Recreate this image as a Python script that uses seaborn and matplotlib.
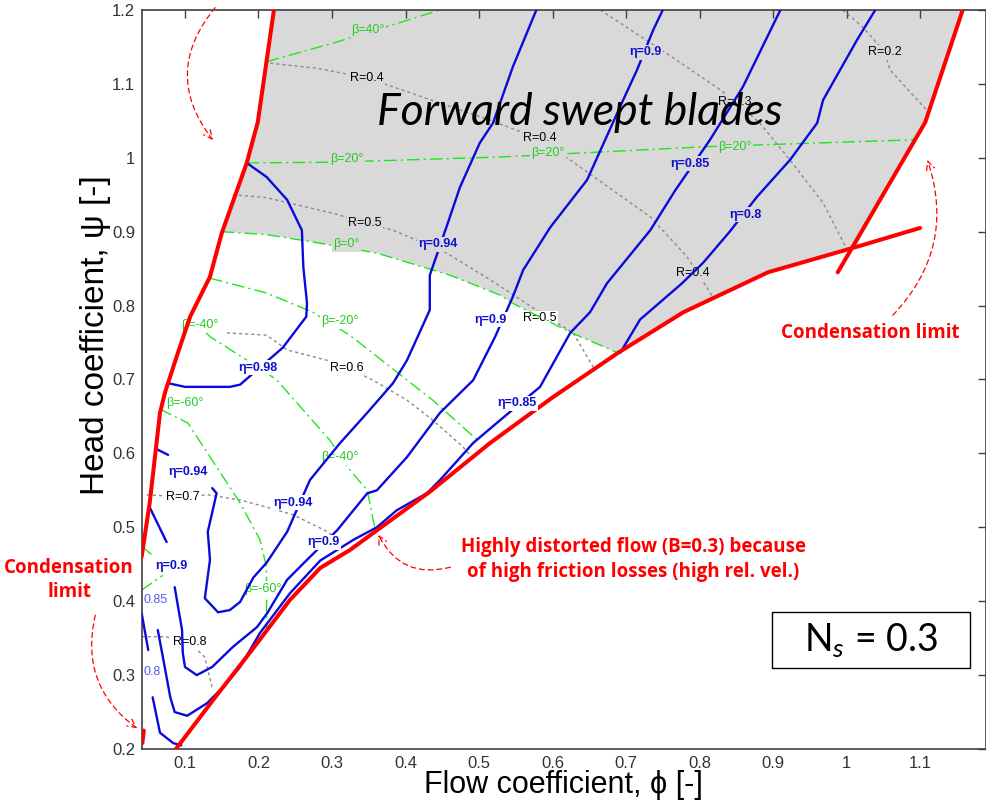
import matplotlib
matplotlib.use("Agg")
import numpy as np
import matplotlib.pyplot as plt
import seaborn as sns
from matplotlib.path import Path
from matplotlib.patches import Rectangle

sns.set_theme(style="white")
plt.rcParams['font.family'] = ['Liberation Sans', 'DejaVu Sans']
plt.rcParams['text.color'] = 'black'
plt.rcParams['axes.labelcolor'] = 'black'
plt.rcParams['mathtext.fontset'] = 'custom'
plt.rcParams['mathtext.rm'] = 'Lato'
plt.rcParams['mathtext.it'] = 'Lato:italic'

# ---- limits (red) ----
left_red_x = [0.041, 0.052, 0.066, 0.073, 0.090, 0.107, 0.134, 0.150, 0.184, 0.199, 0.221]
left_red_y = [0.460, 0.533, 0.655, 0.683, 0.735, 0.785, 0.839, 0.898, 0.993, 1.048, 1.200]
low_red_x = [0.080, 0.138, 0.188, 0.243, 0.284, 0.324, 0.433, 0.515, 0.599, 0.689, 0.778, 0.893, 1.012, 1.100]
low_red_y = [0.190, 0.266, 0.330, 0.402, 0.445, 0.469, 0.548, 0.614, 0.675, 0.736, 0.791, 0.845, 0.879, 0.905]
right_red_x = [0.988, 1.107, 1.158]
right_red_y = [0.845, 1.048, 1.200]
stub_red_x = [0.042, 0.044]
stub_red_y = [0.208, 0.225]

# ---- blade angle lines (green) ----
b40_x = [0.211, 0.301, 0.383, 0.447]
b40_y = [1.130, 1.155, 1.180, 1.200]
b20_x = [0.184, 0.301, 0.529, 0.810, 1.082, 1.093]
b20_y = [0.993, 0.994, 1.001, 1.015, 1.024, 1.025]
b0_x = [0.150, 0.211, 0.274, 0.361, 0.461, 0.529, 0.546, 0.624, 0.689]
b0_y = [0.900, 0.896, 0.886, 0.871, 0.841, 0.814, 0.803, 0.764, 0.736]
bm20_x = [0.134, 0.211, 0.274, 0.324, 0.437, 0.501]
bm20_y = [0.837, 0.817, 0.791, 0.760, 0.672, 0.615]
bm40_x = [0.107, 0.134, 0.211, 0.225, 0.297, 0.324, 0.348, 0.356, 0.359]
bm40_y = [0.785, 0.758, 0.709, 0.699, 0.618, 0.578, 0.550, 0.510, 0.496]
bm60_x = [0.066, 0.104, 0.175, 0.202, 0.211, 0.211]
bm60_y = [0.660, 0.641, 0.533, 0.483, 0.446, 0.360]
bm80_x = [0.041, 0.070]
bm80_y = [0.415, 0.435]
bm80b_x = [0.041, 0.055]
bm80b_y = [0.474, 0.463]

# ---- degree of reaction (grey dotted) ----
r02_x = [0.995, 1.022, 1.052, 1.059, 1.113]
r02_y = [1.200, 1.177, 1.143, 1.119, 1.060]
r03_x = [0.665, 0.769, 0.828, 0.848, 0.882, 0.923, 0.968, 1.000]
r03_y = [1.200, 1.132, 1.092, 1.076, 1.047, 0.997, 0.939, 0.877]
r04_x = [0.216, 0.280, 0.347, 0.383, 0.447, 0.515, 0.578, 0.624, 0.733, 0.783, 0.818]
r04_y = [1.128, 1.121, 1.108, 1.096, 1.074, 1.051, 1.027, 0.997, 0.920, 0.866, 0.812]
r05_x = [0.165, 0.211, 0.301, 0.345, 0.383, 0.456, 0.515, 0.578, 0.628, 0.657]
r05_y = [0.950, 0.946, 0.925, 0.912, 0.902, 0.871, 0.835, 0.794, 0.763, 0.714]
r06_x = [0.157, 0.211, 0.239, 0.293, 0.320, 0.356, 0.402, 0.437, 0.478, 0.490]
r06_y = [0.763, 0.760, 0.740, 0.726, 0.716, 0.699, 0.672, 0.645, 0.609, 0.595]
r07_x = [0.048, 0.097, 0.131, 0.175, 0.212, 0.247, 0.290, 0.305]
r07_y = [0.544, 0.541, 0.544, 0.537, 0.527, 0.517, 0.496, 0.486]
r08_x = [0.041, 0.073, 0.106, 0.127, 0.137]
r08_y = [0.352, 0.352, 0.345, 0.324, 0.283]

# ---- efficiency contours (blue) ----
e98_x = [0.184, 0.211, 0.239, 0.259, 0.261, 0.266, 0.265, 0.233, 0.175, 0.161, 0.100, 0.077]
e98_y = [0.993, 0.974, 0.943, 0.902, 0.852, 0.803, 0.785, 0.743, 0.693, 0.690, 0.690, 0.695]
e94_x = [0.137, 0.143, 0.131, 0.134, 0.127, 0.145, 0.161, 0.175, 0.193, 0.211, 0.239, 0.270,
         0.311, 0.348, 0.383, 0.402, 0.433, 0.433, 0.458, 0.474, 0.501, 0.519, 0.546, 0.578]
e94_y = [0.553, 0.546, 0.494, 0.456, 0.404, 0.385, 0.388, 0.399, 0.432, 0.452, 0.494, 0.564,
         0.614, 0.655, 0.695, 0.726, 0.794, 0.841, 0.913, 0.960, 1.020, 1.047, 1.123, 1.200]
e94s_x = [0.063, 0.077]
e94s_y = [0.605, 0.598]
e90_x = [0.086, 0.096, 0.097, 0.100, 0.116, 0.137, 0.165, 0.198, 0.212, 0.239, 0.266, 0.307,
         0.348, 0.361, 0.402, 0.447, 0.492, 0.522, 0.546, 0.560, 0.597, 0.647, 0.696, 0.715,
         0.737, 0.750]
e90_y = [0.419, 0.361, 0.330, 0.311, 0.300, 0.311, 0.338, 0.365, 0.384, 0.429, 0.456, 0.496,
         0.546, 0.550, 0.595, 0.655, 0.699, 0.758, 0.812, 0.848, 0.906, 0.970, 1.078, 1.119,
         1.173, 1.200]
e90s_x = [0.052, 0.075]
e90s_y = [0.527, 0.480]
e85_x = [0.063, 0.070, 0.080, 0.086, 0.103, 0.130, 0.152, 0.175, 0.202, 0.243, 0.284, 0.329,
         0.361, 0.388, 0.429, 0.447, 0.492, 0.524, 0.583, 0.624, 0.651, 0.674, 0.733, 0.767,
         0.814, 0.859, 0.910]
e85_y = [0.361, 0.324, 0.270, 0.250, 0.245, 0.262, 0.284, 0.311, 0.357, 0.411, 0.455, 0.483,
         0.500, 0.523, 0.546, 0.564, 0.614, 0.641, 0.690, 0.763, 0.791, 0.830, 0.902, 0.956,
         1.024, 1.096, 1.200]
e85s_x = [0.041, 0.050]
e85s_y = [0.384, 0.334]
e80_x = [0.692, 0.719, 0.776, 0.805, 0.841, 0.878, 0.923, 0.960, 0.968, 1.014, 1.039]
e80_y = [0.736, 0.781, 0.830, 0.858, 0.900, 0.947, 0.997, 1.047, 1.078, 1.159, 1.200]
e80s_x = [0.056, 0.066, 0.084, 0.095]
e80s_y = [0.270, 0.222, 0.208, 0.205]

# ---- contour labels ----
eta_labels = [("η=0.98", 0.199, 0.716), ("η=0.94", 0.104, 0.575), ("η=0.94", 0.247, 0.533),
              ("η=0.94", 0.444, 0.883), ("η=0.9", 0.081, 0.448), ("η=0.9", 0.288, 0.480),
              ("η=0.9", 0.515, 0.781), ("η=0.9", 0.726, 1.143), ("η=0.85", 0.552, 0.668),
              ("η=0.85", 0.787, 0.992), ("η=0.8", 0.862, 0.923)]
r_labels = [("R=0.4", 0.347, 1.108), ("R=0.4", 0.583, 1.027), ("R=0.3", 0.848, 1.076),
            ("R=0.2", 1.052, 1.143), ("R=0.5", 0.345, 0.912), ("R=0.4", 0.791, 0.844),
            ("R=0.5", 0.583, 0.783), ("R=0.6", 0.320, 0.716), ("R=0.7", 0.097, 0.541),
            ("R=0.8", 0.106, 0.345)]
beta_labels = [("β=40°", 0.349, 1.173), ("β=20°", 0.320, 0.998), ("β=20°", 0.594, 1.006),
               ("β=20°", 0.848, 1.015), ("β=0°", 0.320, 0.883), ("β=-20°", 0.311, 0.779),
               ("β=-40°", 0.120, 0.774), ("β=-60°", 0.100, 0.668), ("β=-40°", 0.311, 0.595),
               ("β=-60°", 0.206, 0.417)]

x_ticks = [0.1, 0.2, 0.3, 0.4, 0.5, 0.6, 0.7, 0.8, 0.9, 1.0, 1.1]
x_ticklabels = ["0.1", "0.2", "0.3", "0.4", "0.5", "0.6", "0.7", "0.8", "0.9", "1", "1.1"]
y_ticks = [0.2, 0.3, 0.4, 0.5, 0.6, 0.7, 0.8, 0.9, 1.0, 1.1, 1.2]
y_ticklabels = ["0.2", "0.3", "0.4", "0.5", "0.6", "0.7", "0.8", "0.9", "1", "1.1", "1.2"]

RED = "#ff0000"
BLUE = "#0a0adc"
GREEN = "#1ee61e"
GREY = "#8a8a8a"
FILL = "#d9d9d9"

fig = plt.figure(figsize=(9.86, 8.08), dpi=100)
ax = fig.add_axes([0.144, 0.073, 0.8555, 0.9147])


def curve(x, y, color, lw, ls="-", z=2):
    sns.lineplot(x=x, y=y, sort=False, estimator=None, ax=ax, color=color,
                 linewidth=lw, linestyle=ls, zorder=z, legend=False)


# forward swept region
i0 = left_red_y.index(0.898)
poly_x = left_red_x[i0:][::-1] + b0_x + low_red_x[10:13] + right_red_x[1:]
poly_y = left_red_y[i0:][::-1] + b0_y + low_red_y[10:13] + right_red_y[1:]
ax.fill(poly_x, poly_y, color=FILL, lw=0, zorder=0)
fill_path = Path(np.column_stack([poly_x, poly_y]))

dot = (0, (2.2, 2.2))
for xs, ys in [(r02_x, r02_y), (r03_x, r03_y), (r04_x, r04_y), (r05_x, r05_y),
               (r06_x, r06_y), (r07_x, r07_y), (r08_x, r08_y)]:
    curve(xs, ys, GREY, 1.0, dot, z=1)

dashdot = (0, (9, 3, 1.5, 3))
for xs, ys in [(b40_x, b40_y), (b20_x, b20_y), (b0_x, b0_y), (bm20_x, bm20_y),
               (bm40_x, bm40_y), (bm60_x, bm60_y), (bm80_x, bm80_y), (bm80b_x, bm80b_y)]:
    curve(xs, ys, GREEN, 1.0, dashdot, z=2)

for xs, ys in [(e98_x, e98_y), (e94_x, e94_y), (e94s_x, e94s_y), (e90_x, e90_y),
               (e90s_x, e90s_y), (e85_x, e85_y), (e85s_x, e85s_y), (e80_x, e80_y),
               (e80s_x, e80s_y)]:
    curve(xs, ys, BLUE, 1.7, z=3)

for xs, ys in [(left_red_x, left_red_y), (low_red_x, low_red_y),
               (right_red_x, right_red_y), (stub_red_x, stub_red_y)]:
    curve(xs, ys, RED, 2.9, z=4)


def label(s, x, y, color, z, weight="normal"):
    bg = FILL if fill_path.contains_point((x, y)) else "white"
    ax.text(x, y, s, color=color, fontsize=9, fontweight=weight, ha="center", va="center",
            zorder=z, bbox=dict(boxstyle="square,pad=0.12", fc=bg, ec="none"))


for s, x, y in r_labels:
    label(s, x, y, "black", 1.5)
for s, x, y in beta_labels:
    label(s, x, y, "#22cc22", 2.5)
for s, x, y in eta_labels:
    label(s, x, y, "#1010cc", 4.5, weight="bold")
ax.text(0.0435, 0.402, "0.85", color="#5a5aee", fontsize=9, ha="left", va="center", zorder=5)
ax.text(0.0435, 0.304, "0.8", color="#5a5aee", fontsize=9, ha="left", va="center", zorder=5)

# annotations
ax.text(0.637, 1.044, "Forward swept blades", fontsize=32, style="italic", family="Lato",
        color="black", ha="center", va="baseline", zorder=6)
ann = dict(fontsize=13.5, fontweight="bold", color=RED, family="Open Sans", ha="center",
           va="center")
ax.text(1.032, 0.763, "Condensation limit", **ann)
ax.text(-0.0575, 0.429, "Condensation\nlimit", linespacing=1.3, **ann)
ax.text(0.71, 0.456, "Highly distorted flow (B=0.3) because\nof high friction losses (high rel. vel.)",
        linespacing=1.35, **ann)

arrow = dict(arrowstyle="->,head_length=0.5,head_width=0.25", color=RED, lw=0.9,
             linestyle=(0, (4, 3)), shrinkA=0, shrinkB=0)
for start, end, rad in [((0.141, 1.203), (0.138, 1.024), 0.4),
                        ((1.063, 0.787), (1.110, 0.997), 0.3),
                        ((0.461, 0.446), (0.363, 0.490), -0.4),
                        ((-0.022, 0.381), (0.035, 0.228), 0.33)]:
    ax.annotate("", xy=end, xytext=start, annotation_clip=False,
                arrowprops=dict(connectionstyle=f"arc3,rad={rad}", **arrow))

ax.add_patch(Rectangle((0.747, 0.110), 0.235, 0.075, transform=ax.transAxes,
                       fc="white", ec="black", lw=1.0, zorder=6))
ax.text(0.8645, 0.1475, "N$_{s}$ = 0.3", transform=ax.transAxes, fontsize=27, family="Lato",
        color="black", ha="center", va="center", zorder=7)

ax.set_xlim(0.0415, 1.189)
ax.set_ylim(0.2, 1.2)
ax.set_xticks(x_ticks)
ax.set_xticklabels(x_ticklabels)
ax.set_yticks(y_ticks)
ax.set_yticklabels(y_ticklabels)
ax.tick_params(direction="in", length=6, width=1, color="#404040", top=True, right=True,
               labelsize=12, labelcolor="#333333", pad=5)
for sp in ax.spines.values():
    sp.set_color("#404040")
    sp.set_linewidth(1.2)
ax.set_xlabel("Flow coefficient, ϕ [-]", fontsize=22, color="black")
ax.set_ylabel("Head coefficient, ψ [-]", fontsize=24, color="black")
ax.xaxis.set_label_coords(0.5, -0.029)
ax.xaxis.label.set_va("top")
ax.yaxis.set_label_coords(-0.037, 0.56)

fig.savefig("out.png", dpi=100)
